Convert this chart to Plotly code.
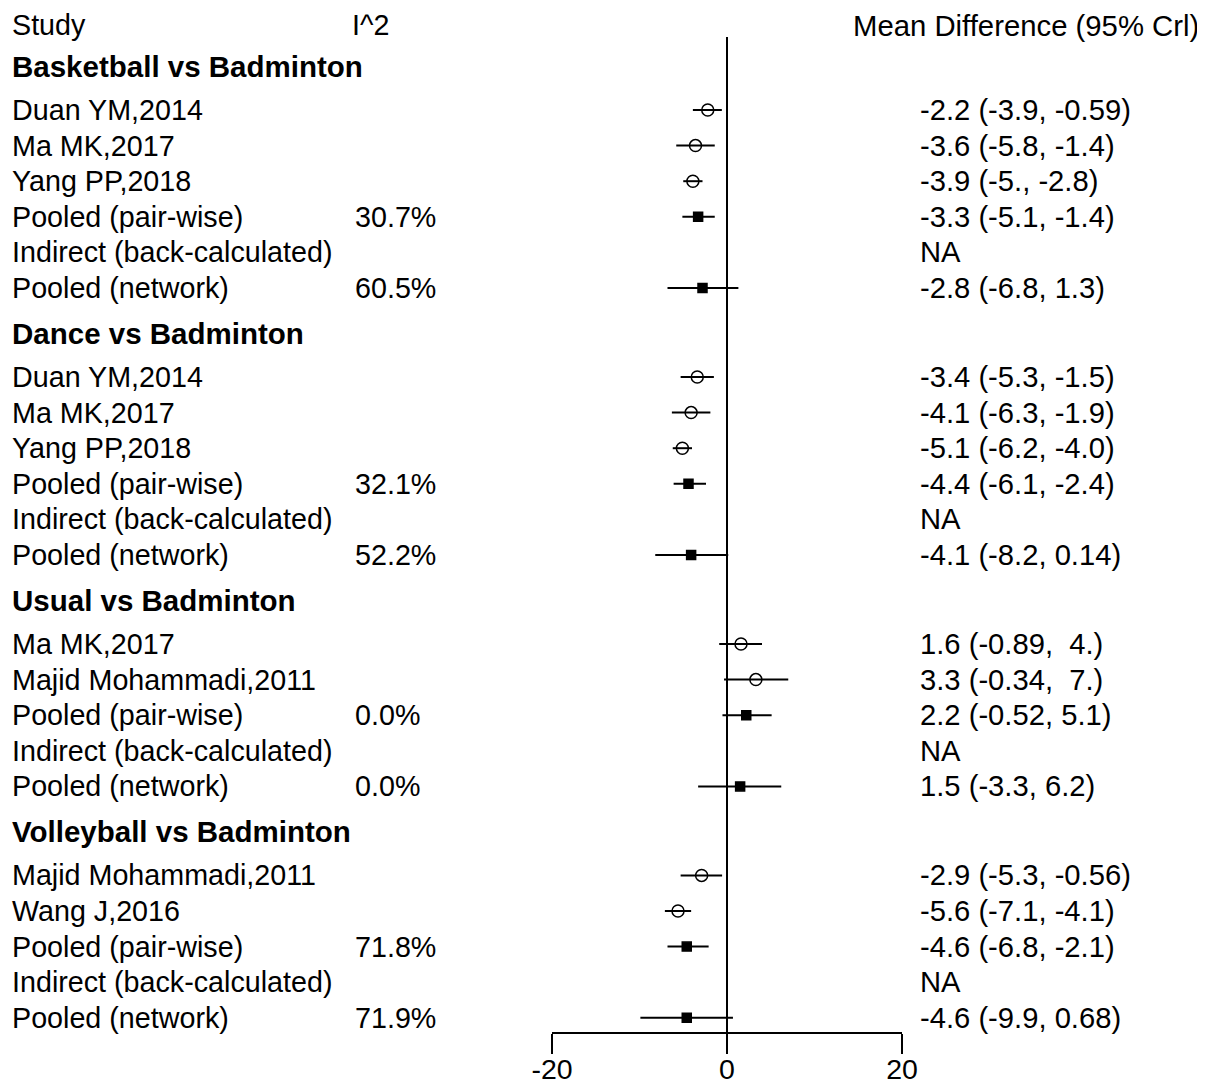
import plotly.graph_objects as go

# ---------------- data ----------------
groups = ["Basketball vs Badminton", "Dance vs Badminton",
          "Usual vs Badminton", "Volleyball vs Badminton"]

group_of_row = [0, 0, 0, 0, 0, 0,
                1, 1, 1, 1, 1, 1,
                2, 2, 2, 2, 2,
                3, 3, 3, 3, 3]

study = ["Duan YM,2014", "Ma MK,2017", "Yang PP,2018", "Pooled (pair-wise)",
         "Indirect (back-calculated)", "Pooled (network)",
         "Duan YM,2014", "Ma MK,2017", "Yang PP,2018", "Pooled (pair-wise)",
         "Indirect (back-calculated)", "Pooled (network)",
         "Ma MK,2017", "Majid Mohammadi,2011", "Pooled (pair-wise)",
         "Indirect (back-calculated)", "Pooled (network)",
         "Majid Mohammadi,2011", "Wang J,2016", "Pooled (pair-wise)",
         "Indirect (back-calculated)", "Pooled (network)"]

kind = ["study", "study", "study", "pooled", "na", "pooled",
        "study", "study", "study", "pooled", "na", "pooled",
        "study", "study", "pooled", "na", "pooled",
        "study", "study", "pooled", "na", "pooled"]

mean = [-2.2, -3.6, -3.9, -3.3, None, -2.8,
        -3.4, -4.1, -5.1, -4.4, None, -4.1,
        1.6, 3.3, 2.2, None, 1.5,
        -2.9, -5.6, -4.6, None, -4.6]
lower = [-3.9, -5.8, -5.0, -5.1, None, -6.8,
         -5.3, -6.3, -6.2, -6.1, None, -8.2,
         -0.89, -0.34, -0.52, None, -3.3,
         -5.3, -7.1, -6.8, None, -9.9]
upper = [-0.59, -1.4, -2.8, -1.4, None, 1.3,
         -1.5, -1.9, -4.0, -2.4, None, 0.14,
         4.0, 7.0, 5.1, None, 6.2,
         -0.56, -4.1, -2.1, None, 0.68]

i2 = ["", "", "", "30.7%", "", "60.5%",
      "", "", "", "32.1%", "", "52.2%",
      "", "", "0.0%", "", "0.0%",
      "", "", "71.8%", "", "71.9%"]

ci_text = ["-2.2 (-3.9, -0.59)", "-3.6 (-5.8, -1.4)", "-3.9 (-5., -2.8)",
           "-3.3 (-5.1, -1.4)", "NA", "-2.8 (-6.8, 1.3)",
           "-3.4 (-5.3, -1.5)", "-4.1 (-6.3, -1.9)", "-5.1 (-6.2, -4.0)",
           "-4.4 (-6.1, -2.4)", "NA", "-4.1 (-8.2, 0.14)",
           "1.6 (-0.89,  4.)", "3.3 (-0.34,  7.)", "2.2 (-0.52, 5.1)",
           "NA", "1.5 (-3.3, 6.2)",
           "-2.9 (-5.3, -0.56)", "-5.6 (-7.1, -4.1)", "-4.6 (-6.8, -2.1)",
           "NA", "-4.6 (-9.9, 0.68)"]

tick_vals = [-20, 0, 20]
tick_text = ["-20", "0", "20"]

# ---------------- layout ----------------
OFF = 8                      # page body margin
W, H = 1205 - OFF, 1085 - OFF
PLOT_BOTTOM = 1032           # in page pixels
UNIT = 35.6
FONT = "Liberation Sans, Arial, sans-serif"
FS_STUDY = 28.7
FS_BOLD = 29.5
FS_CI = 29.2
FS_HDR = 28.7
FS_HDR_CI = 29.3


def px_x(p):
    return (p - OFF - 2) / W


header_y = 25 / UNIT
pos = 66 / UNIT
group_y = []
row_y = []
prev_group = None
for g in group_of_row:
    if g != prev_group:
        if prev_group is not None:
            pos += 1.264
        group_y.append(pos)
        pos += 1.236
        prev_group = g
    else:
        pos += 1.0
    row_y.append(pos)

fig = go.Figure()

for k, sym, size in [("study", "circle-open", 12), ("pooled", "square", 9)]:
    idx = [i for i, kk in enumerate(kind) if kk == k]
    fig.add_trace(go.Scatter(
        x=[mean[i] for i in idx],
        y=[row_y[i] for i in idx],
        mode="markers",
        marker=dict(symbol=sym, size=size, color="black",
                    line=dict(color="black", width=1.5)),
        error_x=dict(type="data", symmetric=False,
                     array=[upper[i] - mean[i] for i in idx],
                     arrayminus=[mean[i] - lower[i] for i in idx],
                     color="black", thickness=2, width=0),
        showlegend=False, hoverinfo="skip",
    ))

annotations = []


def txt(x, y, s, size, bold=False):
    annotations.append(dict(
        x=x, y=y, xref="paper", yref="y", text=("<b>%s</b>" % s) if bold else s,
        showarrow=False, xanchor="left", yanchor="middle",
        font=dict(family=FONT, size=size, color="black")))


txt(px_x(12), header_y, "Study", FS_HDR)
txt(px_x(352), header_y, "I^2", FS_HDR)
txt(px_x(853), header_y, "Mean Difference (95% Crl)", FS_HDR_CI)
for gy, gname in zip(group_y, groups):
    txt(px_x(12), gy, gname, FS_BOLD, bold=True)
for i in range(len(study)):
    txt(px_x(12), row_y[i], study[i], FS_STUDY)
    if i2[i]:
        txt(px_x(355), row_y[i], i2[i], FS_STUDY)
    txt(px_x(920), row_y[i], ci_text[i], FS_CI)

fig.add_shape(type="line", xref="x", yref="y", x0=0, x1=0,
              y0=37 / UNIT, y1=PLOT_BOTTOM / UNIT,
              line=dict(color="black", width=2))

fig.update_layout(
    width=W, height=H,
    margin=dict(l=0, r=0, t=0, b=H - (PLOT_BOTTOM - OFF), pad=0),
    paper_bgcolor="white", plot_bgcolor="white",
    annotations=annotations,
    font=dict(family=FONT, size=FS_STUDY, color="black"),
    xaxis=dict(domain=[(552 - OFF) / W, (902 - OFF) / W], range=[-20, 20],
               tickvals=tick_vals, ticktext=tick_text,
               showline=True, linecolor="black", linewidth=2,
               ticks="outside", ticklen=20, tickwidth=2, tickcolor="black",
               ticklabelstandoff=-9,
               showgrid=False, zeroline=False, automargin=False,
               tickfont=dict(family=FONT, size=28.5, color="black")),
    yaxis=dict(range=[PLOT_BOTTOM / UNIT, OFF / UNIT], visible=False,
               showgrid=False, zeroline=False, automargin=False),
)

fig.write_html("out.html")
